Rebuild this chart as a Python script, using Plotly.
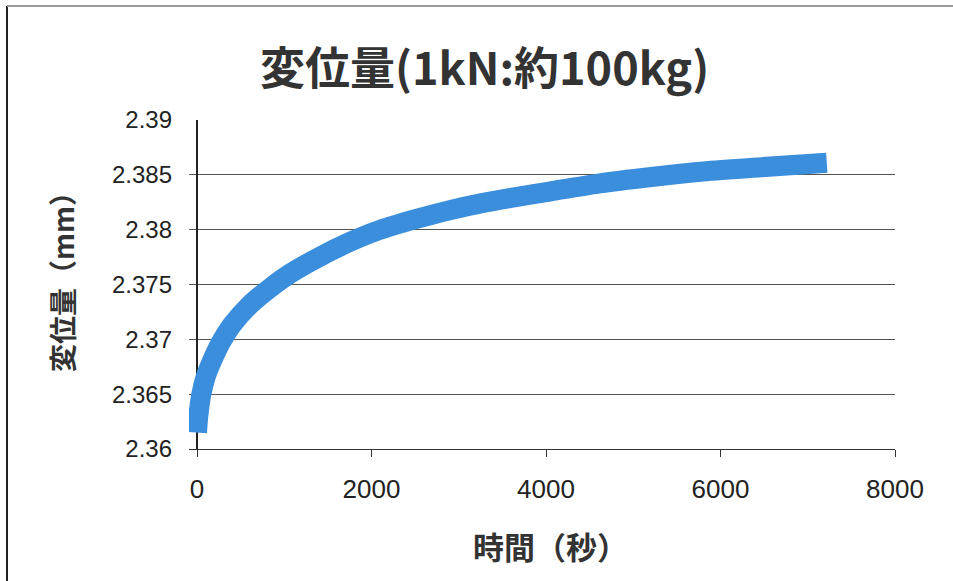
import plotly.graph_objects as go

# Displacement over time under a 1 kN load
time_s = [0, 15, 50, 100, 170, 272, 400, 600, 840, 1069, 1400, 1759, 2103,
          2525, 2908, 3253, 3600, 4057, 4600, 5207, 5800, 6471, 7218]
disp_mm = [2.3615, 2.3630, 2.3650, 2.3666, 2.3680, 2.3697, 2.3713, 2.3731,
           2.3747, 2.3760, 2.3775, 2.3789, 2.3800, 2.3810, 2.3818, 2.3824,
           2.3829, 2.3835, 2.3842, 2.3848, 2.3853, 2.3857, 2.3861]

y_tick_vals = [2.36, 2.365, 2.37, 2.375, 2.38, 2.385, 2.39]
y_tick_text = ["2.36", "2.365", "2.37", "2.375", "2.38", "2.385", "2.39"]
x_tick_vals = [0, 2000, 4000, 6000, 8000]

title_text = "変位量(1kN:約100kg)"
x_title = "時間（秒）"
y_title = "変位量（mm）"

W, H = 953, 581
# plot area starts a few pixels left of x=0 so the thick curve is not cut
L, R, T, B = 189, 58, 120, 132
pw, ph = W - L - R, H - T - B
x_axis_px = 197                     # pixel column of x = 0
x_max = 8000
x_min = -(x_axis_px - L) * x_max / (W - R - x_axis_px)


def px_x(p):
    return (p - L) / pw


def px_y(p):
    return (H - B - p) / ph


fig = go.Figure()
fig.add_trace(go.Scatter(
    x=time_s, y=disp_mm, mode="lines",
    line=dict(color="rgb(58,142,220)", width=20, shape="spline", smoothing=0.8),
    hoverinfo="skip", showlegend=False,
))

tick_font = dict(family="Liberation Sans, Arial, sans-serif", color="#222")
cjk = "Noto Sans CJK JP, sans-serif"

fig.update_layout(
    width=W, height=H,
    margin=dict(l=L, r=R, t=T, b=B),
    paper_bgcolor="white", plot_bgcolor="white",
    xaxis=dict(
        range=[x_min, x_max], tickvals=x_tick_vals,
        showgrid=False,
        zeroline=True, zerolinecolor="#222", zerolinewidth=1.5,
        showline=True, linecolor="#333", linewidth=1,
        ticks="outside", ticklen=7, tickcolor="#333",
        tickfont=dict(size=26, **tick_font), ticklabelstandoff=10,
        layer="below traces",
    ),
    yaxis=dict(
        range=[2.36, 2.39], tickvals=y_tick_vals, ticktext=y_tick_text,
        showgrid=True, gridcolor="#555", gridwidth=1, zeroline=False,
        showline=False, ticks="",
        tickfont=dict(size=24, **tick_font), ticklabelstandoff=16,
        layer="below traces",
    ),
    annotations=[
        dict(text=f"<b>{title_text}</b>", x=px_x(484), y=px_y(66),
             xref="paper", yref="paper", xanchor="center", yanchor="middle",
             showarrow=False, font=dict(family=cjk, size=45, color="#333")),
        dict(text=f"<b>{x_title}</b>", x=px_x(550), y=px_y(545),
             xref="paper", yref="paper", xanchor="center", yanchor="middle",
             showarrow=False, font=dict(family=cjk, size=31, color="#333")),
        dict(text=f"<b>{y_title}</b>", x=px_x(62), y=px_y(275),
             xref="paper", yref="paper", xanchor="center", yanchor="middle",
             textangle=-90, showarrow=False,
             font=dict(family=cjk, size=28, color="#333")),
    ],
    shapes=[
        dict(type="line", xref="paper", yref="paper",
             x0=px_x(7), x1=px_x(7), y0=px_y(6), y1=px_y(581),
             line=dict(color="#222", width=2)),
        dict(type="line", xref="paper", yref="paper",
             x0=px_x(7), x1=px_x(953), y0=px_y(6), y1=px_y(6),
             line=dict(color="#999", width=2)),
    ],
)

fig.write_html("out.html")
